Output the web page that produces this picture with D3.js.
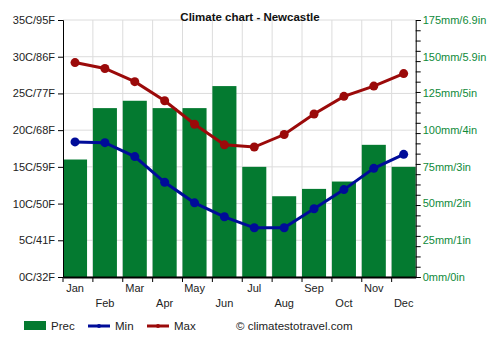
<!DOCTYPE html>
<html><head><meta charset="utf-8">
<script src="https://cdn.jsdelivr.net/npm/d3@7"></script>
<style>body{margin:0;background:#fff}svg{display:block;font-family:"Liberation Sans",Arial,sans-serif}</style>
</head><body>
<svg id="c" width="500" height="350"></svg>
<script>
const months = ["Jan","Feb","Mar","Apr","May","Jun","Jul","Aug","Sep","Oct","Nov","Dec"];
const prec = [80,115,120,115,115,130,75,55,60,65,90,75];
const tmin = [18.4,18.3,16.4,12.9,10.1,8.2,6.7,6.7,9.3,11.9,14.8,16.7];
const tmax = [29.2,28.4,26.6,24.0,20.8,18.0,17.7,19.4,22.2,24.6,26.0,27.7];
const tempTicks = ["0C/32F","5C/41F","10C/50F","15C/59F","20C/68F","25C/77F","30C/86F","35C/95F"];
const precTicks = ["0mm/0in","25mm/1in","50mm/2in","75mm/3in","100mm/4in","125mm/5in","150mm/5.9in","175mm/6.9in"];

const svg = d3.select("#c");
const L = 63, R = 415.7, T = 20, B = 277;
const x = d3.scaleBand().domain(months).range([L, R]).paddingInner(0.195).paddingOuter(0);
const yT = d3.scaleLinear().domain([0,35]).range([B,T]);
const yP = d3.scaleLinear().domain([0,175]).range([B,T]);
const cx = m => x(m) + x.bandwidth()/2;

// grid
const g = svg.append("g");
g.selectAll("line.h").data(d3.range(0,36,5)).join("line")
  .attr("x1",L).attr("x2",R).attr("y1",d=>yT(d)).attr("y2",d=>yT(d))
  .attr("stroke","#dcdcdc").attr("stroke-width",1);
g.selectAll("line.v").data(months.slice(1)).join("line")
  .attr("x1",d=>x(d)).attr("x2",d=>x(d)).attr("y1",T).attr("y2",B)
  .attr("stroke","#dcdcdc").attr("stroke-width",1);

// bars
svg.append("g").selectAll("rect").data(months).join("rect")
  .attr("x",d=>x(d)).attr("width",x.bandwidth())
  .attr("y",(d,i)=>yP(prec[i])).attr("height",(d,i)=>B-yP(prec[i]))
  .attr("fill","#047a30");

// axes
const leftAx = svg.append("g").attr("transform",`translate(${L},0)`)
  .call(d3.axisLeft(yT).tickValues(d3.range(0,36,5)).tickSize(5).tickFormat((d,i)=>tempTicks[i]));
leftAx.select(".domain").attr("stroke","#000");
leftAx.selectAll("text").attr("font-size",11).attr("fill","#222").attr("x",-8);

const rightAx = svg.append("g").attr("transform",`translate(${R},0)`)
  .call(d3.axisRight(yP).tickValues(d3.range(0,176,7)).tickSize(5).tickFormat(""));
rightAx.select(".domain").attr("stroke","#000");
svg.append("g").selectAll("text").data(d3.range(0,176,25)).join("text")
  .attr("x",R+7).attr("y",d=>yP(d)).attr("dy","0.35em")
  .attr("font-size",11).attr("fill","#0f8a3a").text((d,i)=>precTicks[i]);

const bottomAx = svg.append("g").attr("transform",`translate(0,${B})`)
  .call(d3.axisBottom(x).tickSize(0).tickFormat(""));
bottomAx.select(".domain").attr("stroke","#000").attr("stroke-width",2);
svg.append("g").selectAll("line").data(months).join("line")
  .attr("x1",d=>x(d)).attr("x2",d=>x(d)).attr("y1",B).attr("y2",B+5).attr("stroke","#000");
svg.append("g").selectAll("text").data(months).join("text")
  .attr("x",d=>cx(d)).attr("y",(d,i)=> i%2===0 ? 292 : 307)
  .attr("text-anchor","middle").attr("font-size",11).attr("fill","#222").text(d=>d);

// lines
function series(vals,color){
  const line = d3.line().x((d,i)=>cx(months[i])).y(d=>yT(d));
  svg.append("path").datum(vals).attr("d",line).attr("fill","none")
    .attr("stroke",color).attr("stroke-width",3);
  svg.append("g").selectAll("circle").data(vals).join("circle")
    .attr("cx",(d,i)=>cx(months[i])).attr("cy",d=>yT(d)).attr("r",4.5).attr("fill",color);
}
series(tmin,"#000c99");
series(tmax,"#9b0a0a");

// title
svg.append("text").attr("x",250).attr("y",21).attr("text-anchor","middle")
  .attr("font-size",11.5).attr("font-weight","bold").attr("fill","#111").text("Climate chart - Newcastle");

// legend
const lg = svg.append("g");
lg.append("rect").attr("x",24).attr("y",321).attr("width",22).attr("height",9).attr("fill","#047a30");
lg.append("text").attr("x",51).attr("y",330).attr("font-size",11.5).attr("fill","#222").text("Prec");
lg.append("line").attr("x1",88).attr("x2",110).attr("y1",326).attr("y2",326).attr("stroke","#000c99").attr("stroke-width",3);
lg.append("circle").attr("cx",99).attr("cy",326).attr("r",2).attr("fill","#000c99");
lg.append("text").attr("x",115).attr("y",330).attr("font-size",11.5).attr("fill","#222").text("Min");
lg.append("line").attr("x1",147).attr("x2",169).attr("y1",326).attr("y2",326).attr("stroke","#9b0a0a").attr("stroke-width",3);
lg.append("circle").attr("cx",158).attr("cy",326).attr("r",2).attr("fill","#9b0a0a");
lg.append("text").attr("x",174).attr("y",330).attr("font-size",11.5).attr("fill","#222").text("Max");
lg.append("text").attr("x",236).attr("y",330).attr("font-size",11.5).attr("fill","#222").text("© climatestotravel.com");
</script>
</body></html>
